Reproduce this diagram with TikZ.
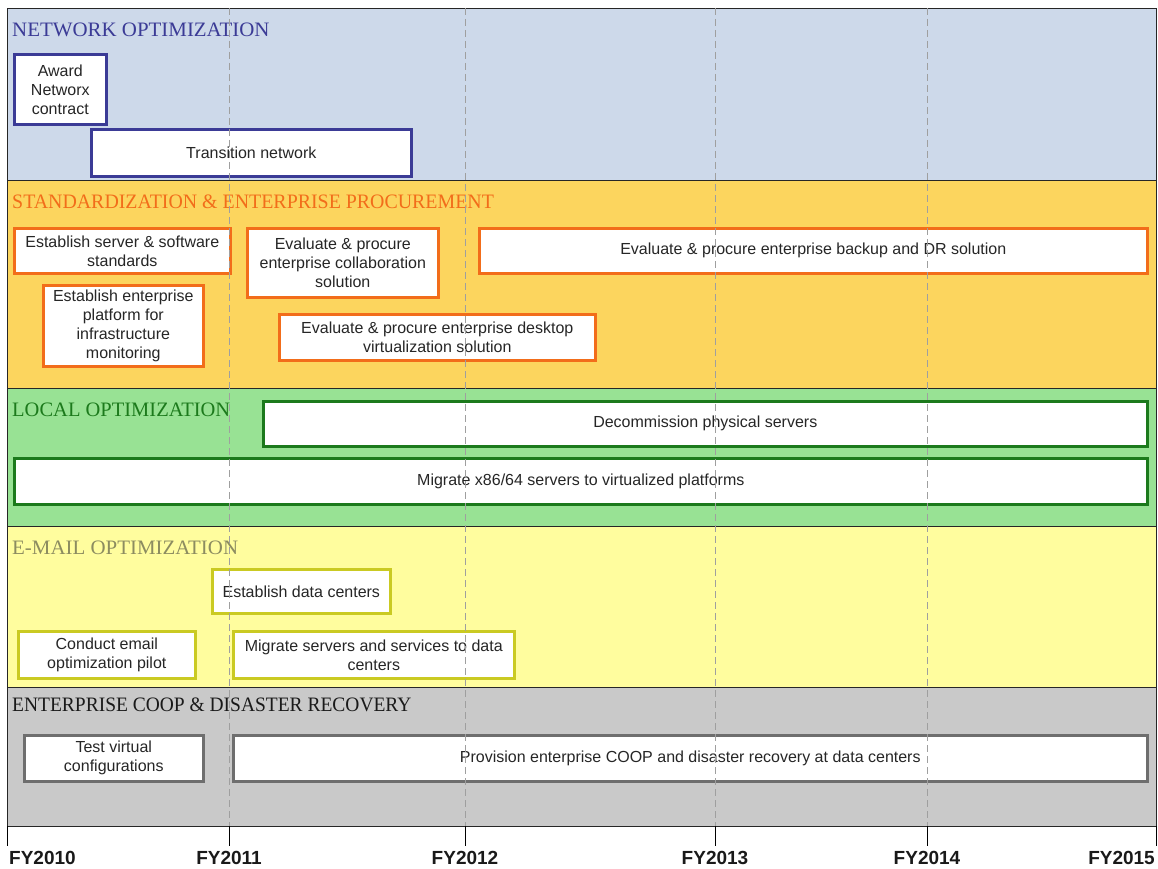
\documentclass[tikz,border=0pt]{standalone}
\usepackage{fontspec}
\setmainfont{Liberation Sans}
\newfontfamily\titlefont{Liberation Serif}
\definecolor{bandA}{HTML}{CDD9EA}
\definecolor{bandB}{HTML}{FCD55E}
\definecolor{bandC}{HTML}{98E294}
\definecolor{bandD}{HTML}{FFFD9E}
\definecolor{bandE}{HTML}{C9C9C9}
\definecolor{lineA}{HTML}{3B3B96}
\definecolor{lineB}{HTML}{F26D1A}
\definecolor{lineC}{HTML}{1C7A1C}
\definecolor{lineD}{HTML}{CACA22}
\definecolor{lineE}{HTML}{6E6E6E}
\definecolor{titleD}{HTML}{8C8C60}
\definecolor{titleE}{HTML}{1A1A1A}
\begin{document}
\begin{tikzpicture}[x=1pt,y=-1pt,
  band/.style={draw=black!85, line width=1.1pt, minimum width=1149pt, anchor=north west, inner sep=0pt},
  bandtitle/.style={anchor=west, inner sep=0pt, font=\titlefont\fontsize{20.5}{22}\selectfont},
  bx/.style={draw, fill=white, line width=2.6pt, anchor=north west, inner sep=1pt, align=center,
    font=\fontsize{16}{19}\selectfont, text=black!85},
  yeargrid/.style={draw=gray!75, line width=0.8pt, dash pattern=on 7pt off 4pt},
  tick/.style={draw=black, line width=1pt},
  yearlabel/.style={font=\bfseries\fontsize{19}{21}\selectfont, inner sep=0pt, text=black!90}
]
\useasboundingbox (0,0) rectangle (1158,869);
% bands
\node[band, fill=bandA, minimum height=172pt] (bA) at (7,8) {};
\node[band, fill=bandB, minimum height=208pt] (bB) at (7,180) {};
\node[band, fill=bandC, minimum height=138pt] (bC) at (7,388) {};
\node[band, fill=bandD, minimum height=161pt] (bD) at (7,526) {};
\node[band, fill=bandE, minimum height=139pt] (bE) at (7,687) {};
% band titles
\node[bandtitle, text=lineA] (tA) at (12,30) {\scalebox{1.02}[1]{NETWORK OPTIMIZATION}};
\node[bandtitle, text=lineB] (tB) at (12,202) {\scalebox{0.97}[1]{STANDARDIZATION \& ENTERPRISE PROCUREMENT}};
\node[bandtitle, text=lineC] (tC) at (12,410) {LOCAL OPTIMIZATION};
\node[bandtitle, text=titleD] (tD) at (12,548) {\scalebox{1.02}[1]{E-MAIL OPTIMIZATION}};
\node[bandtitle, text=titleE] (tE) at (12,705) {\scalebox{0.95}[1]{ENTERPRISE COOP \& DISASTER RECOVERY}};
% band A boxes
\node[bx, draw=lineA, minimum width=92pt, minimum height=70pt] (award) at (13,53) {Award\\Networx\\contract};
\node[bx, draw=lineA, minimum width=320pt, minimum height=47pt] (trans) at (90,128) {Transition network};
% band B boxes
\node[bx, draw=lineB, minimum width=216pt, minimum height=45pt] (std) at (13,227) {Establish server \& software\\standards};
\node[bx, draw=lineB, minimum width=191pt, minimum height=69pt] (collab) at (246,227) {Evaluate \& procure\\enterprise collaboration\\solution};
\node[bx, draw=lineB, minimum width=668pt, minimum height=45pt] (backup) at (478,227) {Evaluate \& procure enterprise backup and DR solution};
\node[bx, draw=lineB, minimum width=160pt, minimum height=81pt] (monit) at (42,284) {Establish enterprise\\platform for\\infrastructure\\monitoring};
\node[bx, draw=lineB, minimum width=316pt, minimum height=46pt] (desk) at (278,313) {Evaluate \& procure enterprise desktop\\virtualization solution};
% band C boxes
\node[bx, draw=lineC, minimum width=884pt, minimum height=45pt] (decom) at (262,400) {Decommission physical servers};
\node[bx, draw=lineC, minimum width=1133pt, minimum height=46pt] (migx) at (13,457) {Migrate x86/64 servers to virtualized platforms};
% band D boxes
\node[bx, draw=lineD, minimum width=178pt, minimum height=44pt] (estdc) at (211,568) {Establish data centers};
\node[bx, draw=lineD, minimum width=177pt, minimum height=47pt] (pilot) at (17,630) {Conduct email\\optimization pilot};
\node[bx, draw=lineD, minimum width=281pt, minimum height=47pt] (migdc) at (232,630) {Migrate servers and services to data\\centers};
% band E boxes
\node[bx, draw=lineE, minimum width=179pt, minimum height=46pt] (test) at (23,734) {Test virtual\\configurations};
\node[bx, draw=lineE, minimum width=914pt, minimum height=46pt] (coop) at (232,734) {Provision enterprise COOP and disaster recovery at data centers};
% year grid
\foreach \x/\n in {229/g11, 465/g12, 715/g13, 927/g14} {
  \coordinate (\n top) at (\x,8);
  \coordinate (\n bot) at (\x,826);
  \coordinate (\n tick) at (\x,846);
  \draw[yeargrid] (\n top) -- (\n bot);
  \draw[tick] (\n bot) -- (\n tick);
}
\coordinate (g10bot) at (7,826);
\coordinate (g10tick) at (7,846);
\coordinate (g15bot) at (1156,826);
\coordinate (g15tick) at (1156,846);
\draw[tick] (g10bot) -- (g10tick);
\draw[tick] (g15bot) -- (g15tick);
% year labels
\node[yearlabel, anchor=west] (y10) at (9,858) {FY2010};
\node[yearlabel] (y11) at (229,858) {FY2011};
\node[yearlabel] (y12) at (465,858) {FY2012};
\node[yearlabel] (y13) at (715,858) {FY2013};
\node[yearlabel] (y14) at (927,858) {FY2014};
\node[yearlabel, anchor=east] (y15) at (1155,858) {FY2015};
\end{tikzpicture}
\end{document}
